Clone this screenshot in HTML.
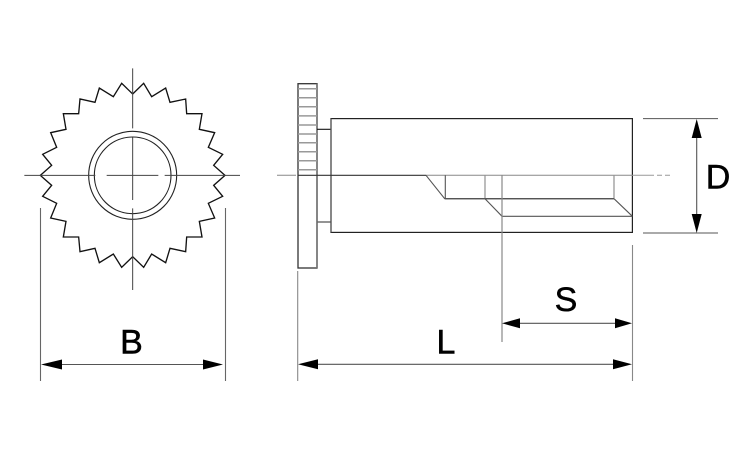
<!DOCTYPE html>
<html>
<head>
<meta charset="utf-8">
<style>
html,body{margin:0;padding:0;background:#fff;}
svg{display:block;}
text{font-family:"Liberation Sans",sans-serif;font-size:34px;fill:#000;stroke:#000;stroke-width:.5px;}
</style>
</head>
<body>
<svg width="750" height="450" viewBox="0 0 750 450" xmlns="http://www.w3.org/2000/svg">
<rect width="750" height="450" fill="#fff"/>
<!-- Left view -->
<g transform="translate(20,60) scale(0.33333)" fill="none">
<polygon stroke="#111" stroke-width="4" stroke-linejoin="miter" points="338,102 371,70 395,110 437,84 450,127 497,117 500,161 546,161 538,208 584,218 565,262 608,283 581,316 615,346 581,376 608,409 565,430 584,474 538,484 546,531 500,531 497,575 450,565 437,608 395,582 371,622 338,590 305,622 280,582 238,608 225,565 180,575 176,531 130,531 138,484 92,474 110,430 68,409 95,376 61,346 95,316 68,283 110,262 92,218 138,208 130,161 176,161 180,117 225,127 238,84 280,110 305,70"/>
<circle cx="338" cy="346" r="132" stroke="#222" stroke-width="3.3"/>
<circle cx="338" cy="346" r="115" stroke="#222" stroke-width="3.3"/>
<path d="M13 346H226M260 346H415M434 346H660M338 25V205M338 232V420M338 445V690" stroke="#444" stroke-width="3"/>
</g>
<!-- Left view dimension -->
<path d="M40.5 208V381M225.5 208V381" stroke="#666" stroke-width="1.1" fill="none"/>
<path d="M60 364.5H205" stroke="#555" stroke-width="1.1"/>
<polygon points="41,364.5 62,359.5 62,369.5" fill="#000"/>
<polygon points="223,364.5 203,359.5 203,369.5" fill="#000"/>
<text x="131.5" y="353.5" text-anchor="middle">B</text>

<!-- Flange -->
<rect x="298" y="83.7" width="19" height="184.3" fill="#fff" stroke="#333" stroke-width="1.3"/>
<path d="M317 83.7V268" stroke="#777" stroke-width="1.6"/>
<path d="M298 88.7H317M298 97.7H317M298 106.7H317M298 115.9H317M298 125H317M298 134H317M298 142.7H317M298 151.7H317M298 160.7H317M298 169.7H317" stroke="#999" stroke-width="1.5"/>
<path d="M317 129.3H331" stroke="#111" stroke-width="1.1"/>
<path d="M317 222H331" stroke="#666" stroke-width="1.4"/>
<!-- Body -->
<rect x="331" y="118.6" width="301.4" height="113.8" fill="none" stroke="#222" stroke-width="1.2"/>
<path d="M331 118.6V232.4" stroke="#555" stroke-width="1.2"/>
<!-- Center line -->
<path d="M277 175.3H296" stroke="#888" stroke-width="1"/>
<path d="M298 175.3H426" stroke="#333" stroke-width="1.2"/>
<path d="M426 175.3H632" stroke="#888" stroke-width="1"/>
<path d="M632 175.3H670" stroke="#999" stroke-width="1" stroke-dasharray="22 3 5 3"/>
<!-- Internal thread -->
<path d="M426 175.3L444.7 198.7H614L632.4 216.3M445.3 175.3V198.7M485 198.7L502 216.3H632.4" fill="none" stroke="#555" stroke-width="1.1"/>
<path d="M485 175.3V198.7M614 175.3V198.7" stroke="#999" stroke-width="1.3"/>
<path d="M445 198.7H614" stroke="#555" stroke-width="1.3"/>
<!-- Extension lines -->
<path d="M502 175.3V342" stroke="#888" stroke-width="1.2"/>
<path d="M297.7 271V381M632.5 245V381" stroke="#888" stroke-width="1.1"/>
<path d="M643 118.6H718M643 233H718" stroke="#555" stroke-width="1"/>
<!-- S -->
<path d="M515 323.3H620" stroke="#555" stroke-width="1.1"/>
<polygon points="502,323.3 520,318.3 520,328.3" fill="#000"/>
<polygon points="632,323.3 615,318.3 615,328.3" fill="#000"/>
<text x="566" y="311" text-anchor="middle">S</text>
<!-- L -->
<path d="M315 364.3H615" stroke="#555" stroke-width="1.1"/>
<polygon points="298,364.3 318,359.3 318,369.3" fill="#000"/>
<polygon points="632,364.3 613,359.3 613,369.3" fill="#000"/>
<text x="446" y="353.5" text-anchor="middle">L</text>
<!-- D -->
<path d="M696.7 135V216" stroke="#555" stroke-width="1.1"/>
<polygon points="696.7,119 691.7,138 701.7,138" fill="#000"/>
<polygon points="696.7,233 691.7,214 701.7,214" fill="#000"/>
<text x="718" y="188.5" text-anchor="middle">D</text>
</svg>
</body>
</html>
